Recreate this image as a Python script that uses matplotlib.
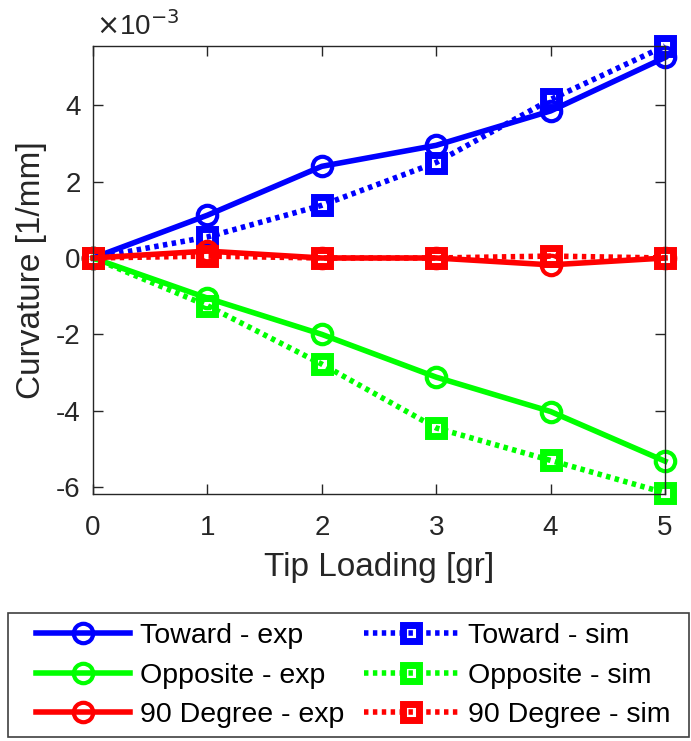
import matplotlib.pyplot as plt
from matplotlib.patches import Rectangle
from matplotlib.ticker import FuncFormatter

plt.rcParams['font.family'] = ['Liberation Sans', 'DejaVu Sans']
plt.rcParams['axes.unicode_minus'] = False

# tip loading [gr]
load = [0, 1, 2, 3, 4, 5]

# curvature values in units of 1e-3 1/mm
toward_exp = [0, 1.12, 2.4, 2.95, 3.85, 5.25]
toward_sim = [0, 0.55, 1.38, 2.5, 4.15, 5.55]
opposite_exp = [0, -1.05, -2.0, -3.12, -4.02, -5.32]
opposite_sim = [0, -1.25, -2.78, -4.45, -5.3, -6.15]
deg90_exp = [0, 0.18, 0, 0, -0.18, 0]
deg90_sim = [0, 0.05, 0, 0, 0.05, 0]

scale = 1e-3
ink = '#262626'

fig = plt.figure(figsize=(6.91, 7.41), dpi=100)
ax = fig.add_axes([0.1346, 0.3333, 0.8278, 0.6046])

lw = 4
dot = (0, (0.8, 0.8))
circ = dict(lw=lw, marker='o', ms=14, mfc='none', mew=3, clip_on=False)
sq = dict(lw=lw, ls=dot, marker='s', ms=11, mfc='none', mew=5, clip_on=False)

ax.plot(load, [v * scale for v in toward_exp], color='#0000ff', label='Toward - exp', **circ)
ax.plot(load, [v * scale for v in toward_sim], color='#0000ff', label='Toward - sim', **sq)
ax.plot(load, [v * scale for v in opposite_exp], color='#00ff00', label='Opposite - exp', **circ)
ax.plot(load, [v * scale for v in opposite_sim], color='#00ff00', label='Opposite - sim', **sq)
ax.plot(load, [v * scale for v in deg90_exp], color='#ff0000', label='90 Degree - exp', **circ)
ax.plot(load, [v * scale for v in deg90_sim], color='#ff0000', label='90 Degree - sim', **sq)

ax.set_xlim(0, 5)
ax.set_ylim(-6.18e-3, 5.55e-3)
ax.set_xticks(load)
ax.set_yticks([-6e-3, -4e-3, -2e-3, 0, 2e-3, 4e-3])
ax.yaxis.set_major_formatter(FuncFormatter(lambda v, p: f'{round(v / scale):d}'))

ax.text(0.005, 1.012, r'$\times$10$^{\mathsf{-3}}$', transform=ax.transAxes, fontsize=20,
        color=ink, ha='left', va='bottom')

ax.tick_params(direction='in', top=True, right=True, length=7, width=1,
               labelsize=20, colors=ink)
ax.tick_params(axis='x', pad=15)
ax.tick_params(axis='y', pad=9)
for s in ax.spines.values():
    s.set_color(ink)
    s.set_linewidth(1)

ax.set_xlabel('Tip Loading [gr]', fontsize=24, color=ink, labelpad=8)
ax.set_ylabel('Curvature [1/mm]', fontsize=24, color=ink, labelpad=6)

h, l = ax.get_legend_handles_labels()
order = [0, 2, 4, 1, 3, 5]
leg = fig.legend([h[i] for i in order], [l[i] for i in order], ncol=2,
                 loc='upper left', bbox_to_anchor=(36 / 691, 1 - 623 / 741),
                 fontsize=20.5, frameon=False, markerscale=1,
                 handlelength=3.3, handletextpad=0.35, columnspacing=0.7,
                 labelspacing=0.48, borderpad=0, borderaxespad=0)

# legend box, MATLAB style
fig.patches.append(Rectangle((8 / 691, 4 / 741), 681 / 691, 124 / 741,
                             transform=fig.transFigure, fill=False,
                             edgecolor='#404040', linewidth=1.2))

fig.savefig('out.png', dpi=100)
